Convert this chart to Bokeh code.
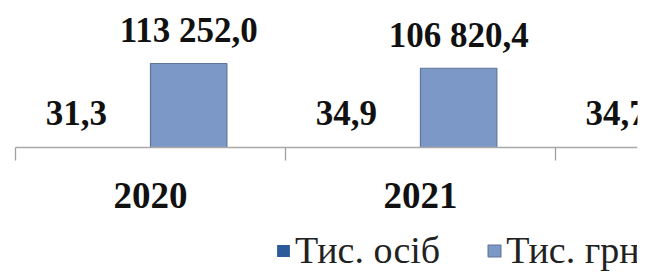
from bokeh.plotting import figure
from bokeh.models import (Range1d, FixedTicker, ColumnDataSource, Legend,
                          LegendItem, LinearAxis)
from bokeh.core.properties import value
from bokeh.embed import file_html
from bokeh.resources import INLINE

# ---- data ----
years = ["2020", "2021", "2022"]
persons = [31.3, 34.9, 34.7]            # Тис. осіб
uah_years = ["2020", "2021"]
uah = [113252.0, 106820.4]               # Тис. грн
series_names = ["Тис. осіб", "Тис. грн"]


def fmt(v):
    return f"{v:,.1f}".replace(",", " ").replace(".", ",")


BAR_W = 0.283
pos = {y: i for i, y in enumerate(years)}

src_p = ColumnDataSource(dict(
    x=[pos[y] - BAR_W / 2 for y in years],
    top=persons,
    label=[fmt(v) for v in persons],
))
src_u = ColumnDataSource(dict(
    x=[pos[y] + BAR_W / 2 for y in uah_years],
    top=uah,
    label=[fmt(v) for v in uah],
))

# frame covers the whole visible area; value axis 0 sits 139px below the top
FRAME_H = 265
ZERO_PX = 139
PX_PER_UNIT = 84 / 113252
y_end = ZERO_PX / PX_PER_UNIT
y_start = -(FRAME_H - ZERO_PX) / PX_PER_UNIT

p = figure(frame_width=629, frame_height=FRAME_H,
           x_range=Range1d(-0.526, 1.804), y_range=Range1d(y_start, y_end),
           x_axis_type=None, y_axis_type=None,
           output_backend="svg", toolbar_location=None,
           min_border_left=8, min_border_right=19, min_border_top=8,
           min_border_bottom=0)
p.outline_line_color = None
p.xgrid.visible = False
p.ygrid.visible = False
p.background_fill_color = "white"

r1 = p.vbar(x="x", top="top", bottom=0, width=BAR_W, source=src_p,
            fill_color="#2d5a9a", line_color=None)
r2 = p.vbar(x="x", top="top", bottom=0, width=BAR_W, source=src_u,
            fill_color="#7c98c6", line_color="#5f759b", line_width=1.2)

label_font = value("Liberation Serif")
p.text(x="x", y="top", text="label", source=src_p, x_offset=-36, y_offset=-34,
       text_font=label_font, text_font_style="bold", text_font_size="35px",
       text_align="center", text_baseline="alphabetic", text_color="#111111")
p.text(x="x", y="top", text="label", source=src_u, y_offset=-33,
       text_font=label_font, text_font_style="bold", text_font_size="35px",
       text_align="center", text_baseline="alphabetic", text_color="#111111")

xaxis = LinearAxis(
    ticker=FixedTicker(ticks=list(range(len(years))),
                       minor_ticks=[i - 0.5 for i in range(len(years) + 1)]),
    major_label_overrides={i: y for i, y in enumerate(years)},
    bounds=(-0.5, len(years) - 0.5),
    fixed_location=0,
)
xaxis.axis_line_color = "#a9a9a9"
xaxis.axis_line_width = 1.3
xaxis.major_tick_line_color = None
xaxis.major_tick_out = 0
xaxis.major_tick_in = 0
xaxis.minor_tick_line_color = "#a0a0a0"
xaxis.minor_tick_line_width = 1.3
xaxis.minor_tick_out = 13
xaxis.minor_tick_in = 0
xaxis.major_label_text_font = "Liberation Serif"
xaxis.major_label_text_font_style = "bold"
xaxis.major_label_text_font_size = "37px"
xaxis.major_label_text_color = "#111111"
xaxis.major_label_standoff = 22
p.add_layout(xaxis, "below")

legend = Legend(items=[LegendItem(label=series_names[0], renderers=[r1]),
                       LegendItem(label=series_names[1], renderers=[r2])],
                orientation="horizontal", location=(267, 1),
                padding=0, margin=0, spacing=46, label_standoff=4,
                glyph_width=16, glyph_height=15,
                border_line_color=None, background_fill_alpha=0,
                label_text_font="'Liberation Serif', serif",
                label_text_font_size="38px",
                label_text_color="#222222")
p.add_layout(legend, "center")

open("out.html", "w").write(file_html(p, INLINE))
